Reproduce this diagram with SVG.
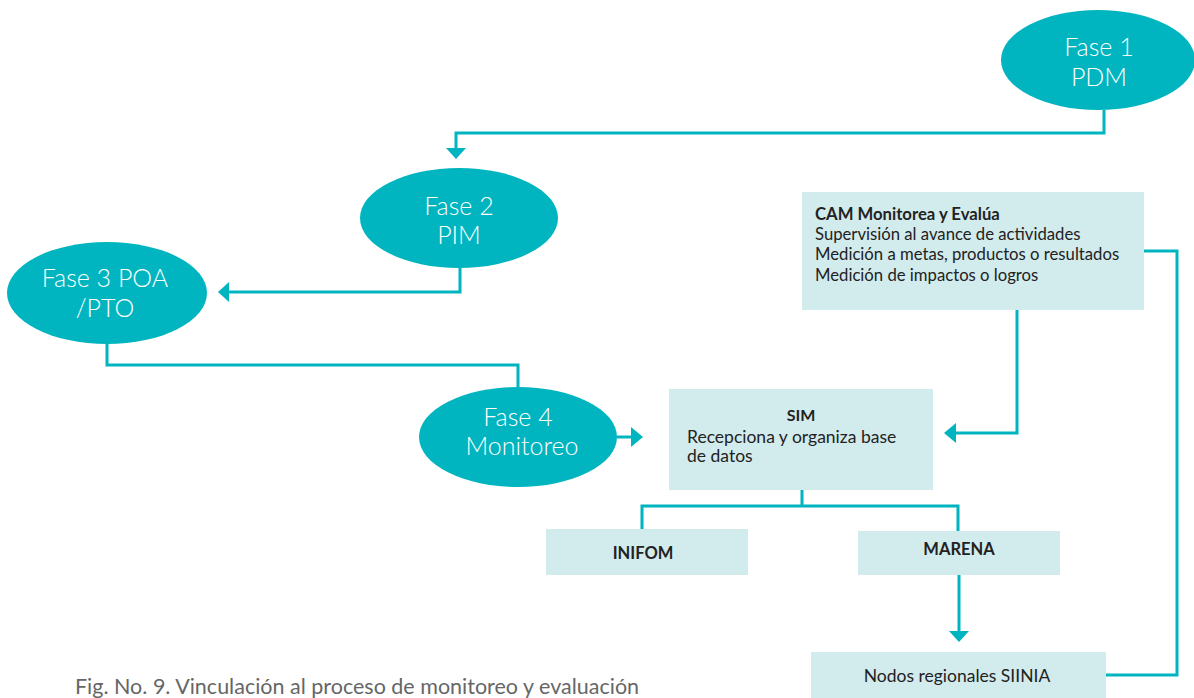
<svg xmlns="http://www.w3.org/2000/svg" width="1194" height="698" viewBox="0 0 1194 698">
<style>
.ell{fill:#00b5bf}
.et{font-family:Lato,"Open Sans","Liberation Sans",sans-serif;font-size:25px;fill:#ffffff;text-anchor:middle;font-weight:300}
.box{fill:#d2ebed}
.bt{font-family:Lato,"Open Sans","Liberation Sans",sans-serif;font-size:16.7px;fill:#222}
.bb{font-weight:bold}
.c{fill:none;stroke:#00b5bf;stroke-width:3}
.cap{font-family:Lato,"Open Sans","Liberation Sans",sans-serif;font-size:21.5px;fill:#666}
</style>
<g id="connectors">
<path class="c" d="M1104,110 V133 H456 V148"/>
<polygon points="446,148 466,148 456,159" fill="#00b5bf"/>
<path class="c" d="M460,268 V292 H229"/>
<polygon points="229,282 229,302 218,292" fill="#00b5bf"/>
<path class="c" d="M107,344 V365 H518 V388"/>
<path class="c" d="M617,437 H631"/>
<polygon points="631,427 631,447 643,437" fill="#00b5bf"/>
<path class="c" d="M1017,310 V433 H956"/>
<polygon points="956,423 956,443 944,433" fill="#00b5bf"/>
<path class="c" d="M802,490 V506 M642,529 V506 H958 V531"/>
<path class="c" d="M959,575 V631"/>
<polygon points="949,631 969,631 959,642" fill="#00b5bf"/>
<path class="c" d="M1144,251 H1177 V675 H1106"/>
</g>
<g id="fase1">
<ellipse class="ell" cx="1098" cy="60" rx="97" ry="50"/>
<text class="et" x="1099" y="56">Fase 1</text>
<text class="et" x="1099" y="86">PDM</text>
</g>
<g id="fase2">
<ellipse class="ell" cx="459" cy="218" rx="99" ry="50"/>
<text class="et" x="459" y="215">Fase 2</text>
<text class="et" x="459" y="244">PIM</text>
</g>
<g id="fase3">
<ellipse class="ell" cx="107" cy="293" rx="100" ry="51"/>
<text class="et" x="105" y="287">Fase 3 POA</text>
<text class="et" x="105" y="317">/PTO</text>
</g>
<g id="fase4">
<ellipse class="ell" cx="518" cy="437" rx="99" ry="50"/>
<text class="et" x="518" y="426">Fase 4</text>
<text class="et" x="522" y="455">Monitoreo</text>
</g>
<g id="cam">
<rect class="box" x="802" y="192" width="342" height="118"/>
<text class="bt bb" x="815" y="220">CAM Monitorea y Evalúa</text>
<text class="bt" x="815" y="240">Supervisión al avance de actividades</text>
<text class="bt" x="815" y="260">Medición a metas, productos o resultados</text>
<text class="bt" x="815" y="281">Medición de impactos o logros</text>
</g>
<g id="sim">
<rect class="box" x="669" y="389" width="264" height="101"/>
<text class="bt bb" x="801" y="421" text-anchor="middle" style="font-size:16px">SIM</text>
<text class="bt" x="687" y="443" style="font-size:17.5px">Recepciona y organiza base</text>
<text class="bt" x="687" y="462" style="font-size:17.5px">de datos</text>
</g>
<g id="inifom">
<rect class="box" x="546" y="529" width="202" height="46"/>
<text class="bt bb" x="643" y="559" text-anchor="middle" style="font-size:16.5px">INIFOM</text>
</g>
<g id="marena">
<rect class="box" x="858" y="531" width="202" height="44"/>
<text class="bt bb" x="959" y="555" text-anchor="middle" style="font-size:16.5px">MARENA</text>
</g>
<g id="nodos">
<rect class="box" x="811" y="652" width="295" height="46"/>
<text class="bt" x="957" y="682" text-anchor="middle" style="font-size:17.5px">Nodos regionales SIINIA</text>
</g>
<text class="cap" x="75" y="694">Fig. No. 9. Vinculación al proceso de monitoreo y evaluación</text>
</svg>
